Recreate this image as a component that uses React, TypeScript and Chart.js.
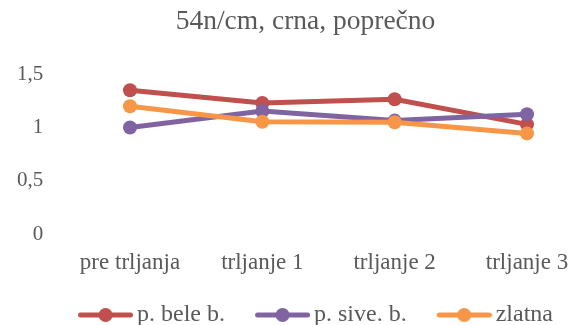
import React, { useEffect, useRef } from "react";
import { Chart, registerables } from "chart.js";

Chart.register(...registerables);

const titleText = "54n/cm, crna, poprečno";
const categories = ["pre trljanja", "trljanje 1", "trljanje 2", "trljanje 3"];
const seriesNames = ["p. bele b.", "p. sive. b.", "zlatna"];
const beleValues = [1.35, 1.23, 1.265, 1.03];
const siveValues = [1.0, 1.155, 1.065, 1.125];
const zlatnaValues = [1.2, 1.055, 1.05, 0.945];
const seriesColors = ["#C0504D", "#8064A2", "#F79646"];
const yTicks = [0, 0.5, 1, 1.5];

const FONT = "'Times New Roman', 'Liberation Serif', serif";
const TEXT = "#595959";
const ICON_BOX = 67;
const LEGEND_PAD = 10;

function legendIcon(color: string): HTMLCanvasElement {
  const c = document.createElement("canvas");
  const w = ICON_BOX + 16;
  c.width = w;
  c.height = 16;
  const ctx = c.getContext("2d")!;
  ctx.strokeStyle = color;
  ctx.lineWidth = 5;
  ctx.lineCap = "round";
  ctx.beginPath();
  ctx.moveTo(w - 55 + 2.5, 8);
  ctx.lineTo(w - 2.5, 8);
  ctx.stroke();
  ctx.fillStyle = color;
  ctx.beginPath();
  ctx.arc(w - 27.5, 8, 7, 0, Math.PI * 2);
  ctx.fill();
  return c;
}

export default function App() {
  const ref = useRef<HTMLCanvasElement | null>(null);

  useEffect(() => {
    document.body.style.margin = "0";
    const values = [beleValues, siveValues, zlatnaValues];
    const icons = seriesColors.map((c) => legendIcon(c));
    const chart = new Chart(ref.current!, {
      type: "line",
      data: {
        labels: categories,
        datasets: seriesNames.map((name, i) => ({
          label: name,
          data: values[i],
          borderColor: seriesColors[i],
          backgroundColor: seriesColors[i],
          pointBackgroundColor: seriesColors[i],
          pointBorderColor: seriesColors[i],
          borderWidth: 5,
          pointRadius: 7,
          pointHoverRadius: 7,
          pointBorderWidth: 0,
          tension: 0,
          order: 2 - i,
        })),
      },
      options: {
        animation: false,
        responsive: false,
        devicePixelRatio: 1,
        layout: { padding: { left: 44, right: 2, top: 0, bottom: -12 } },
        plugins: {
          title: {
            display: true,
            text: titleText,
            color: TEXT,
            font: { family: FONT, size: 27.5, weight: "normal" },
            padding: { top: 5, bottom: 36.3 },
          },
          legend: {
            display: true,
            position: "bottom",
            labels: {
              usePointStyle: true,
              pointStyleWidth: ICON_BOX,
              color: TEXT,
              font: { family: FONT, size: 24 },
              padding: LEGEND_PAD,
              sort: (a: any, b: any) => a.datasetIndex - b.datasetIndex,
              generateLabels: (chart: any) =>
                chart.data.datasets.map((ds: any, i: number) => ({
                  text: ds.label,
                  fillStyle: ds.borderColor,
                  strokeStyle: ds.borderColor,
                  fontColor: TEXT,
                  lineWidth: 0,
                  pointStyle: icons[i],
                  hidden: false,
                  datasetIndex: i,
                })),
            },
          },
          tooltip: { enabled: false },
        },
        scales: {
          x: {
            offset: false,
            grid: { display: false, drawTicks: false },
            border: { display: false },
            afterFit: (axis: any) => {
              axis.height = 69 - LEGEND_PAD;
              axis.paddingRight = 42;
              axis.paddingLeft = 40;
            },
            ticks: {
              color: TEXT,
              font: { family: FONT, size: 23 },
              padding: 15.5,
              maxRotation: 0,
              autoSkip: false,
            },
          },
          y: {
            min: 0,
            max: 1.5,
            afterBuildTicks: (axis: any) => {
              axis.ticks = yTicks.map((v) => ({ value: v }));
            },
            afterFit: (axis: any) => {
              axis.width = 86;
              axis.paddingTop = 0;
              axis.paddingBottom = 0;
            },
            grid: { display: false, drawTicks: false },
            border: { display: false },
            ticks: {
              color: TEXT,
              font: { family: FONT, size: 21 },
              mirror: true,
              crossAlign: "far",
              padding: -113,
              callback: (v: any) => String(v).replace(".", ","),
            },
          },
        },
      },
    } as any);
    return () => chart.destroy();
  }, []);

  return (
    <div style={{ width: 569, height: 325 }}>
      <canvas ref={ref} width={569} height={325} style={{ display: "block" }} />
    </div>
  );
}
